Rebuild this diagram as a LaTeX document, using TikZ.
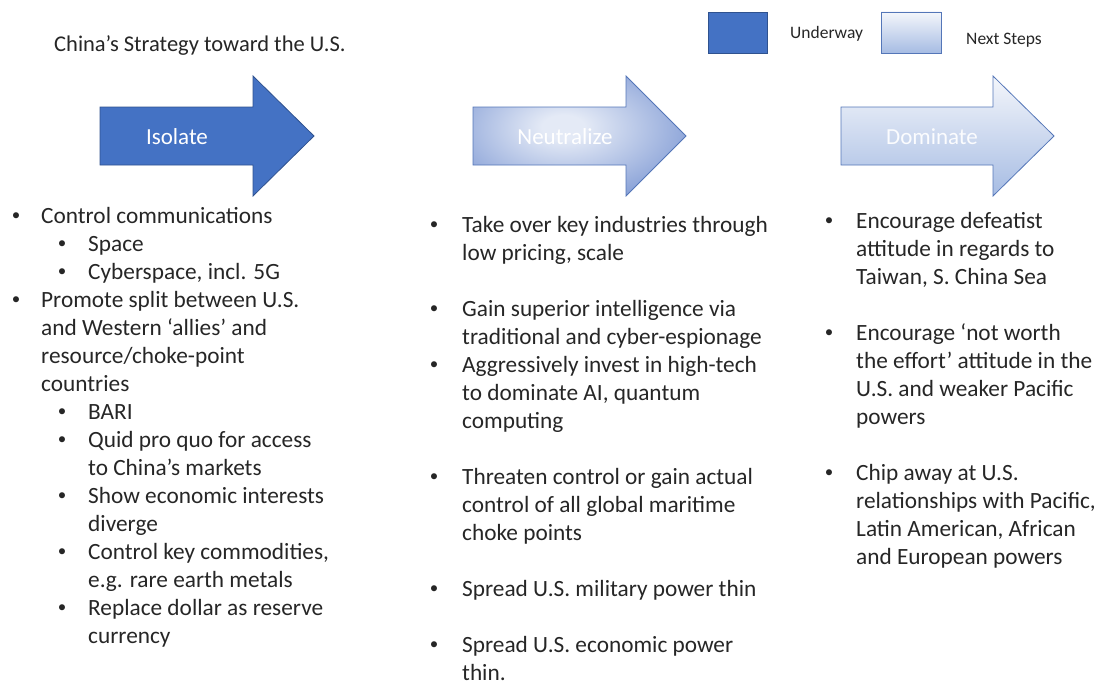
\documentclass[tikz,border=0pt]{standalone}
\usepackage{fontspec}
\setmainfont{Carlito}
\definecolor{txt}{RGB}{38,38,38}
\definecolor{accent}{RGB}{68,114,196}
\definecolor{accentline}{RGB}{47,82,143}
\definecolor{softline}{RGB}{84,118,184}
\definecolor{ntop}{RGB}{244,246,251}
\definecolor{nbottom}{RGB}{166,188,227}
\definecolor{nlight}{RGB}{228,234,246}
\definecolor{ndark}{RGB}{80,116,196}
\pgfdeclareradialshading{neutral}{\pgfpoint{-4bp}{4bp}}{%
  color(0bp)=(nlight); color(5bp)=(nlight); color(46bp)=(ndark); color(100bp)=(ndark)}
\begin{document}
\begin{tikzpicture}[x=1pt,y=1pt,
  bodytext/.style={font=\fontsize{23.3}{28}\selectfont, text=txt, anchor=base west, inner sep=0pt},
  bulletmark/.style={font=\fontsize{17}{20}\selectfont, text=txt, anchor=base, inner sep=0pt, yshift=2.5pt},
  arrowlabel/.style={font=\fontsize{23}{28}\selectfont, text=white, inner sep=0pt},
  legendtext/.style={font=\fontsize{17.5}{21}\selectfont, text=txt, anchor=base west, inner sep=0pt},
  solidfill/.style={fill=accent, draw=accentline, line width=0.8pt},
  fadefill/.style={top color=ntop, bottom color=nbottom, draw=softline, line width=0.8pt},
  radialfill/.style={shading=neutral, draw=softline, line width=0.8pt}]
\useasboundingbox (0,0) rectangle (1099,-685);

% title
\node[anchor=base west, inner sep=0pt, text=txt, font=\fontsize{22.5}{26}\selectfont] (title) at (54,-52) {China’s Strategy toward the U.S.};

% legend
\draw[solidfill] (708,-12) rectangle (767,-53);
\node[legendtext] (lgA) at (790,-39) {Underway};
\draw[fadefill] (881,-12) rectangle (941,-53);
\node[legendtext] (lgB) at (966,-45) {Next Steps};

% stage arrows
\draw[solidfill, shift={(100,0)}] (0,-107) -- (153,-107) -- (153,-76) -- (214,-136) -- (153,-196) -- (153,-165) -- (0,-165) -- cycle;
\draw[radialfill, shift={(473,0)}] (0,-107) -- (153,-107) -- (153,-76) -- (213,-136) -- (153,-196) -- (153,-165) -- (0,-165) -- cycle;
\draw[fadefill, shift={(841,0)}] (0,-107) -- (152,-107) -- (152,-76) -- (213,-136) -- (152,-196) -- (152,-165) -- (0,-165) -- cycle;
\node[arrowlabel] (isolate) at (177,-137) {Isolate};
\node[arrowlabel] (neutralize) at (565,-137) {Neutralize};
\node[arrowlabel, text=white!96!nbottom] (dominate) at (932,-137) {Dominate};

% Isolate column
\node[bulletmark] (lb1) at (16,-223) {•};
\node[bodytext] (l1) at (41,-223) {Control communications};
\node[bulletmark] (lb2) at (62,-251) {•};
\node[bodytext] (l2) at (88,-251) {Space};
\node[bulletmark] (lb3) at (62,-279) {•};
\node[bodytext] (l3) at (88,-279) {Cyberspace, incl. 5G};
\node[bulletmark] (lb4) at (16,-307) {•};
\node[bodytext] (l4) at (41,-307) {Promote split between U.S.};
\node[bodytext] (l5) at (41,-335) {and Western ‘allies’ and};
\node[bodytext] (l6) at (41,-363) {resource/choke-point};
\node[bodytext] (l7) at (41,-391) {countries};
\node[bulletmark] (lb8) at (62,-419) {•};
\node[bodytext] (l8) at (88,-419) {BARI};
\node[bulletmark] (lb9) at (62,-447) {•};
\node[bodytext] (l9) at (88,-447) {Quid pro quo for access};
\node[bodytext] (l10) at (88,-475) {to China’s markets};
\node[bulletmark] (lb11) at (62,-503) {•};
\node[bodytext] (l11) at (88,-503) {Show economic interests};
\node[bodytext] (l12) at (88,-531) {diverge};
\node[bulletmark] (lb13) at (62,-559) {•};
\node[bodytext] (l13) at (88,-559) {Control key commodities,};
\node[bodytext] (l14) at (88,-587) {e.g. rare earth metals};
\node[bulletmark] (lb15) at (62,-615) {•};
\node[bodytext] (l15) at (88,-615) {Replace dollar as reserve};
\node[bodytext] (l16) at (88,-643) {currency};

% Neutralize column
\node[bulletmark] (mb1) at (434,-232) {•};
\node[bodytext] (m1) at (462,-232) {Take over key industries through};
\node[bodytext] (m2) at (462,-260) {low pricing, scale};
\node[bulletmark] (mb3) at (434,-316) {•};
\node[bodytext] (m3) at (462,-316) {Gain superior intelligence via};
\node[bodytext] (m4) at (462,-344) {traditional and cyber-espionage};
\node[bulletmark] (mb5) at (434,-372) {•};
\node[bodytext] (m5) at (462,-372) {Aggressively invest in high-tech};
\node[bodytext] (m6) at (462,-400) {to dominate AI, quantum};
\node[bodytext] (m7) at (462,-428) {computing};
\node[bulletmark] (mb8) at (434,-484) {•};
\node[bodytext] (m8) at (462,-484) {Threaten control or gain actual};
\node[bodytext] (m9) at (462,-512) {control of all global maritime};
\node[bodytext] (m10) at (462,-540) {choke points};
\node[bulletmark] (mb11) at (434,-596) {•};
\node[bodytext] (m11) at (462,-596) {Spread U.S. military power thin};
\node[bulletmark] (mb12) at (434,-652) {•};
\node[bodytext] (m12) at (462,-652) {Spread U.S. economic power};
\node[bodytext] (m13) at (462,-680) {thin.};

% Dominate column
\node[bulletmark] (rb1) at (829,-228) {•};
\node[bodytext] (r1) at (856,-228) {Encourage defeatist};
\node[bodytext] (r2) at (856,-256) {attitude in regards to};
\node[bodytext] (r3) at (856,-284) {Taiwan, S. China Sea};
\node[bulletmark] (rb4) at (829,-340) {•};
\node[bodytext] (r4) at (856,-340) {Encourage ‘not worth};
\node[bodytext] (r5) at (856,-368) {the effort’ attitude in the};
\node[bodytext] (r6) at (856,-396) {U.S. and weaker Pacific};
\node[bodytext] (r7) at (856,-424) {powers};
\node[bulletmark] (rb8) at (829,-480) {•};
\node[bodytext] (r8) at (856,-480) {Chip away at U.S.};
\node[bodytext] (r9) at (856,-508) {relationships with Pacific,};
\node[bodytext] (r10) at (856,-536) {Latin American, African};
\node[bodytext] (r11) at (856,-564) {and European powers};
\end{tikzpicture}
\end{document}
